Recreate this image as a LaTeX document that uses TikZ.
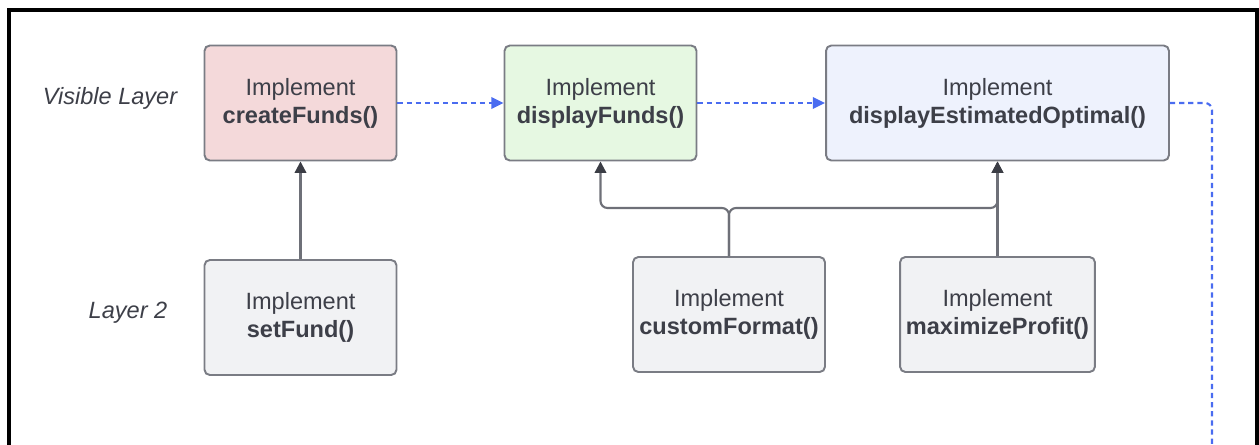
\documentclass[tikz,border=0pt]{standalone}
\usepackage{fontspec}
\setmainfont{Liberation Sans}
\usetikzlibrary{positioning, arrows.meta, calc}

\definecolor{txt}{HTML}{3D3F48}
\definecolor{boxgray}{HTML}{7A7C84}
\definecolor{linkgray}{HTML}{6E7078}
\definecolor{tipgray}{HTML}{3B3D45}
\definecolor{flowblue}{HTML}{4A6CF0}
\definecolor{pinkfill}{HTML}{F4D9DA}
\definecolor{greenfill}{HTML}{E6F8E2}
\definecolor{bluefill}{HTML}{EEF2FD}
\definecolor{grayfill}{HTML}{F1F2F4}

\begin{document}
\begin{tikzpicture}[x=0.02cm, y=0.02cm,
    func/.style={draw=boxgray, line width=1.1pt, rounded corners=3pt, align=center,
      text=txt, minimum width=3.84cm, minimum height=2.3cm,
      font=\fontsize{13.4}{16}\selectfont},
    layer/.style={text=txt, font=\fontsize{13.4}{16}\selectfont\itshape},
    uses/.style={draw=linkgray, line width=1.2pt, rounded corners=4pt,
      -{Triangle[length=6.5pt, width=6.5pt, color=tipgray]}},
    flow/.style={draw=flowblue, line width=1.2pt, dash pattern=on 3pt off 2.2pt,
      rounded corners=4pt, -{Triangle[length=7pt, width=6.5pt]}}]
        \useasboundingbox (0,0) rectangle (1259,444);
        \draw[line width=1.8pt] (9,-10) -- (9,434) -- (1257,434) -- (1257,-10);

        % visible layer
        \node[layer] (vis) at (110,346) {Visible Layer};
        \node[func, fill=pinkfill]  (cf)  at (300.5,341) {Implement\\\textbf{createFunds()}};
        \node[func, fill=greenfill] (df)  at (600.5,341) {Implement\\\textbf{displayFunds()}};
        \node[func, fill=bluefill, minimum width=6.86cm]
                                    (deo) at (997.5,341) {Implement\\\textbf{displayEstimatedOptimal()}};

        % layer 2
        \node[layer] (two) at (128,131) {Layer 2};
        \node[func, fill=grayfill]  (sf)  at (300.5,126.5) {Implement\\\textbf{setFund()}};
        \node[func, fill=grayfill]  (cfm) at (729,129.5)   {Implement\\\textbf{customFormat()}};
        \node[func, fill=grayfill]  (mp)  at (997.5,129.5) {Implement\\\textbf{maximizeProfit()}};

        \coordinate (bus) at (0,236);
        \coordinate (out) at (1212,-40);

        \draw[uses] (sf) -- (cf);
        \draw[uses] (cfm.north) -- (cfm.north |- bus) -| (df.south);
        \draw[uses] (cfm.north) -- (cfm.north |- bus) -| (deo.south);
        \draw[uses] (mp) -- (deo);

        \draw[flow] (cf) -- (df);
        \draw[flow] (df) -- (deo);
        \draw[flow] (deo.east) -| (out);
\end{tikzpicture}
\end{document}
